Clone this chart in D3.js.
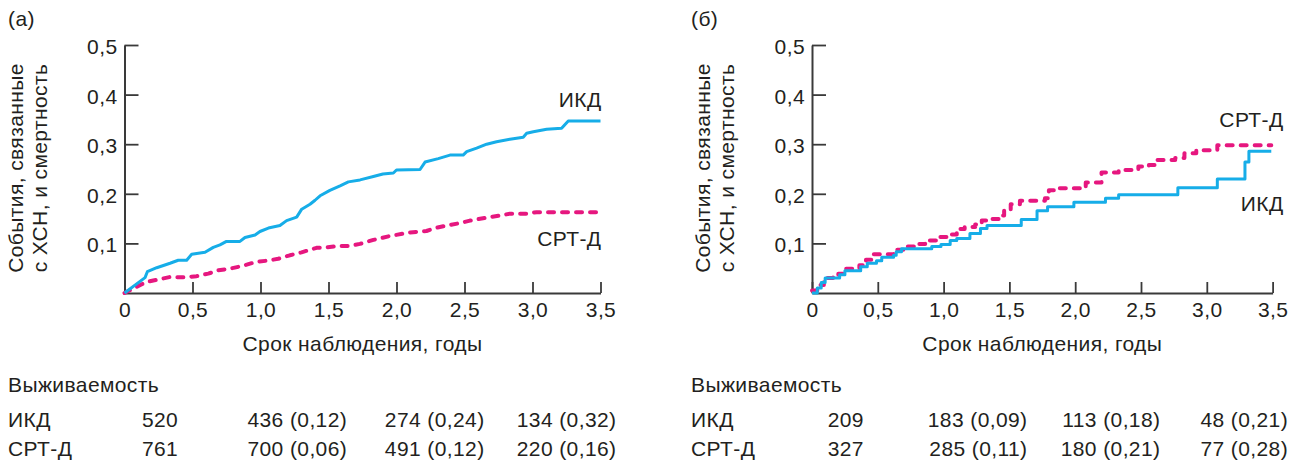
<!DOCTYPE html>
<html lang="ru">
<head>
<meta charset="UTF-8">
<title>ИКД vs СРТ-Д</title>
<script src="https://cdn.jsdelivr.net/npm/d3@7"></script>
<style>
    html, body { margin: 0; padding: 0; background: #fff; }
    svg text { font-family: "Liberation Sans", Arial, sans-serif; font-size: 21px; letter-spacing: 0.4px; fill: #231f20; }
</style>
</head>
<body>
<svg id="chart" width="1297" height="461"></svg>
<script>
    // axis ticks
    const xTicks = [0, 0.5, 1.0, 1.5, 2.0, 2.5, 3.0, 3.5];
    const yTicks = [0.1, 0.2, 0.3, 0.4, 0.5];

    // panel (а): [years, cumulative rate]
    const icdA = [[0, 0], [0.151, 0.031], [0.168, 0.043], [0.237, 0.051], [0.335, 0.060], [0.395, 0.066],
        [0.457, 0.066], [0.494, 0.078], [0.592, 0.082], [0.653, 0.092], [0.702, 0.097], [0.75, 0.104],
        [0.849, 0.104], [0.886, 0.112], [0.96, 0.117], [0.996, 0.124], [1.058, 0.131], [1.143, 0.136],
        [1.192, 0.146], [1.266, 0.153], [1.303, 0.169], [1.364, 0.179], [1.401, 0.187], [1.438, 0.196],
        [1.51, 0.207], [1.585, 0.216], [1.646, 0.224], [1.732, 0.228], [1.83, 0.235], [1.90, 0.240],
        [1.977, 0.242], [2.0, 0.248], [2.173, 0.249], [2.21, 0.264], [2.307, 0.271], [2.393, 0.278],
        [2.49, 0.278], [2.516, 0.285], [2.589, 0.292], [2.663, 0.300], [2.736, 0.305], [2.834, 0.310],
        [2.932, 0.314], [2.957, 0.322], [3.006, 0.325], [3.104, 0.330], [3.214, 0.332], [3.263, 0.347],
        [3.5, 0.347]];
    const crtA = [[0, 0], [0.085, 0.012], [0.159, 0.022], [0.245, 0.027], [0.33, 0.032], [0.457, 0.032],
        [0.53, 0.034], [0.616, 0.039], [0.69, 0.046], [0.775, 0.049], [0.873, 0.055], [0.971, 0.063],
        [1.045, 0.065], [1.13, 0.069], [1.216, 0.076], [1.302, 0.082], [1.412, 0.091], [1.486, 0.092],
        [1.584, 0.095], [1.657, 0.095], [1.731, 0.099], [1.83, 0.107], [1.952, 0.115], [2.1, 0.122],
        [2.22, 0.125], [2.283, 0.131], [2.369, 0.136], [2.467, 0.141], [2.54, 0.146], [2.663, 0.152],
        [2.76, 0.156], [2.834, 0.160], [2.957, 0.160], [3.03, 0.163], [3.48, 0.163]];

    // panel (б): steps [years, value after step]
    const icdB = [[0, 0], [0.04, 0.010], [0.07, 0.021], [0.10, 0.030], [0.21, 0.037], [0.25, 0.045],
        [0.37, 0.053], [0.42, 0.060], [0.49, 0.065], [0.53, 0.072], [0.62, 0.076], [0.64, 0.083],
        [0.68, 0.089], [0.91, 0.094], [0.98, 0.098], [1.05, 0.106], [1.10, 0.110], [1.20, 0.120],
        [1.28, 0.130], [1.33, 0.136], [1.59, 0.148], [1.71, 0.166], [1.79, 0.174], [1.99, 0.183],
        [2.23, 0.191], [2.33, 0.198], [2.78, 0.212], [3.08, 0.230], [3.29, 0.264], [3.32, 0.286],
        [3.49, 0.286]];
    const crtB = [[0, 0.005], [0.04, 0.016], [0.09, 0.030], [0.16, 0.034], [0.20, 0.039], [0.25, 0.049],
        [0.36, 0.056], [0.41, 0.067], [0.47, 0.078], [0.62, 0.087], [0.70, 0.094], [0.79, 0.099],
        [0.86, 0.106], [0.95, 0.113], [1.03, 0.118], [1.10, 0.129], [1.16, 0.133], [1.24, 0.138],
        [1.29, 0.146], [1.36, 0.149], [1.42, 0.156], [1.46, 0.167], [1.51, 0.179], [1.58, 0.186],
        [1.77, 0.191], [1.80, 0.207], [1.85, 0.211], [2.08, 0.223], [2.20, 0.243], [2.33, 0.248],
        [2.48, 0.255], [2.56, 0.258], [2.62, 0.268], [2.76, 0.272], [2.83, 0.282], [2.92, 0.288],
        [3.08, 0.298], [3.49, 0.298]];

    // survival table
    const rowNames = ["ИКД", "СРТ-Д"];
    const survIcdA = ["520", "436 (0,12)", "274 (0,24)", "134 (0,32)"];
    const survCrtA = ["761", "700 (0,06)", "491 (0,12)", "220 (0,16)"];
    const survIcdB = ["209", "183 (0,09)", "113 (0,18)", "48 (0,21)"];
    const survCrtB = ["327", "285 (0,11)", "180 (0,21)", "77 (0,28)"];

    const blue = "#16ade8", pink = "#e6177f", axisCol = "#3a3a3a";
    const colYears = [0.387, 1.63, 2.64, 3.61];   // right edges of table columns, in years
    const fmt = d => d === 0 ? "0" : d3.format(".1f")(d).replace(".", ",");

    const svg = d3.select("#chart");

    function panel(p) {
        const x = d3.scaleLinear().domain([0, 3.5]).range([p.x0, p.x1]);
        const y = d3.scaleLinear().domain([0, 0.5]).range([293, 45]);
        const g = svg.append("g");

        g.append("text").attr("x", p.left).attr("y", 26).text(p.tag);

        const xa = g.append("g").attr("transform", "translate(0,293)")
            .call(d3.axisBottom(x).tickValues(xTicks).tickFormat(fmt).tickSize(-11).tickSizeOuter(0).tickPadding(9));
        const ya = g.append("g").attr("transform", "translate(" + p.x0 + ",0)")
            .call(d3.axisLeft(y).tickValues(yTicks).tickFormat(fmt).tickSize(-14).tickSizeOuter(0).tickPadding(7));
        [xa, ya].forEach(a => {
            a.attr("font-size", null).attr("font-family", null);
            a.select(".domain").attr("stroke", axisCol).attr("stroke-width", 2);
            a.selectAll(".tick line").attr("stroke", axisCol).attr("stroke-width", 1.8);
            a.selectAll(".tick text").attr("fill", "#231f20");
        });
        ya.selectAll(".tick text").attr("dy", "0.4em");

        // titles
        const ymid = (y(0) + y(0.5)) / 2 - 1;
        g.append("text").attr("text-anchor", "middle")
            .attr("transform", "translate(" + (p.x0 - 102) + "," + ymid + ") rotate(-90)")
            .text("События, связанные");
        g.append("text").attr("text-anchor", "middle")
            .attr("transform", "translate(" + (p.x0 - 78) + "," + ymid + ") rotate(-90)")
            .text("с ХСН, и смертность");
        g.append("text").attr("text-anchor", "middle")
            .attr("x", (p.x0 + p.x1) / 2).attr("y", 351)
            .text("Срок наблюдения, годы");

        // curves
        const line = d3.line().x(d => x(d[0])).y(d => y(d[1])).curve(p.curve);
        g.append("path").datum(p.crt).attr("d", line)
            .attr("fill", "none").attr("stroke", pink).attr("stroke-width", 4)
            .attr("stroke-dasharray", "6,8").attr("stroke-linecap", "round").attr("stroke-linejoin", "round");
        g.append("path").datum(p.icd).attr("d", line)
            .attr("fill", "none").attr("stroke", blue).attr("stroke-width", 3)
            .attr("stroke-linejoin", "round");

        // series labels
        p.labels.forEach(l => {
            g.append("text").attr("text-anchor", "end")
                .attr("x", x(3.5) + l.dx).attr("y", y(l.v)).text(l.t);
        });

        // survival table
        g.append("text").attr("x", p.left).attr("y", 392).text("Выживаемость");
        [p.survIcd, p.survCrt].forEach((row, i) => {
            const by = 427 + i * 29;
            g.append("text").attr("x", p.left).attr("y", by).text(rowNames[i]);
            g.selectAll(null).data(row).enter().append("text")
                .attr("text-anchor", "end")
                .attr("x", (d, j) => x(colYears[j]) + 1)
                .attr("y", by)
                .text(d => d);
        });
    }

    panel({
        tag: "(а)", left: 8, x0: 124.5, x1: 600.5, icd: icdA, crt: crtA, curve: d3.curveLinear,
        survIcd: survIcdA, survCrt: survCrtA,
        labels: [{t: "ИКД", v: 0.375, dx: 1}, {t: "СРТ-Д", v: 0.095, dx: 1}]
    });
    panel({
        tag: "(б)", left: 691, x0: 812, x1: 1272.6, icd: icdB, crt: crtB, curve: d3.curveStepAfter,
        survIcd: survIcdB, survCrt: survCrtB,
        labels: [{t: "СРТ-Д", v: 0.335, dx: 11}, {t: "ИКД", v: 0.165, dx: 11}]
    });
</script>
</body>
</html>
